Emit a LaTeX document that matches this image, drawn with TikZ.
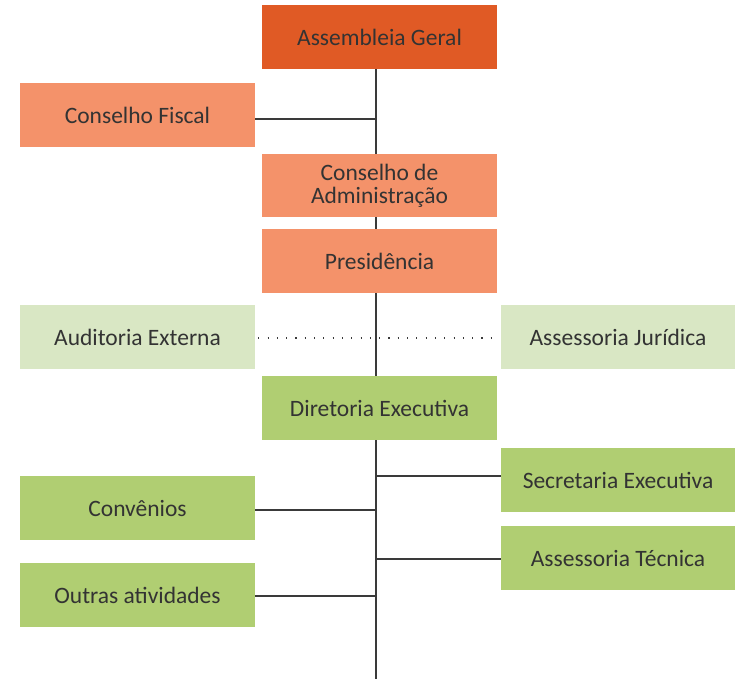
\documentclass[tikz,border=0pt]{standalone}
\usepackage{fontspec}
\setmainfont{Carlito}
\definecolor{agcol}{HTML}{E05A25}
\definecolor{salmon}{HTML}{F4926A}
\definecolor{lgreen}{HTML}{D9E7C4}
\definecolor{mgreen}{HTML}{B0CE72}
\definecolor{txt}{HTML}{333333}
\definecolor{linec}{HTML}{3A3A3A}
\begin{document}
\begin{tikzpicture}[x=1pt,y=1pt,
  box/.style={rectangle, minimum width=235pt, minimum height=64pt, inner sep=0pt,
    text=txt, font=\fontsize{23.5}{23}\selectfont, align=center},
  conn/.style={draw=linec, line width=1.4pt},
  dotconn/.style={draw=linec, line width=1.1pt, dash pattern=on 1.1pt off 8.2pt}]
\useasboundingbox (0,0) rectangle (735,-679);
\node[box, fill=agcol] (AG) at (379.5,-37) {Assembleia Geral};
\node[box, fill=salmon] (CF) at (137.5,-115) {Conselho Fiscal};
\node[box, fill=salmon, minimum height=63pt] (CA) at (379.5,-185.5) {Conselho de\\Administração};
\node[box, fill=salmon] (PR) at (379.5,-261) {Presidência};
\node[box, fill=lgreen] (AE) at (137.5,-337) {Auditoria Externa};
\node[box, fill=lgreen, minimum width=234pt] (AJ) at (618,-337) {Assessoria Jurídica};
\node[box, fill=mgreen] (DE) at (379.5,-408) {Diretoria Executiva};
\node[box, fill=mgreen, minimum width=234pt] (SE) at (618,-480) {Secretaria Executiva};
\node[box, fill=mgreen, minimum width=234pt] (AT) at (618,-558) {Assessoria Técnica};
\node[box, fill=mgreen] (CV) at (137.5,-508) {Convênios};
\node[box, fill=mgreen] (OA) at (137.5,-595) {Outras atividades};
\coordinate (bot) at (376,-679);
% spine segments
\draw[conn] (AG.south -| bot) -- (CA.north -| bot);
\draw[conn] (CA.south -| bot) -- (PR.north -| bot);
\draw[conn] (PR.south -| bot) -- (DE.north -| bot);
\draw[conn] (DE.south -| bot) -- (bot);
% branches
\draw[conn] ([yshift=-4pt]CF.east) -- ([yshift=-4pt]CF.east -| bot);
\draw[conn] ([yshift=4pt]SE.west) -- ([yshift=4pt]SE.west -| bot);
\draw[conn] ([yshift=-2pt]CV.east) -- ([yshift=-2pt]CV.east -| bot);
\draw[conn] ([yshift=-1pt]AT.west) -- ([yshift=-1pt]AT.west -| bot);
\draw[conn] ([yshift=-1pt]OA.east) -- ([yshift=-1pt]OA.east -| bot);
\draw[dotconn] ([xshift=3pt,yshift=-1pt]AE.east) -- ([xshift=-4pt,yshift=-1pt]AJ.west);
\end{tikzpicture}
\end{document}
